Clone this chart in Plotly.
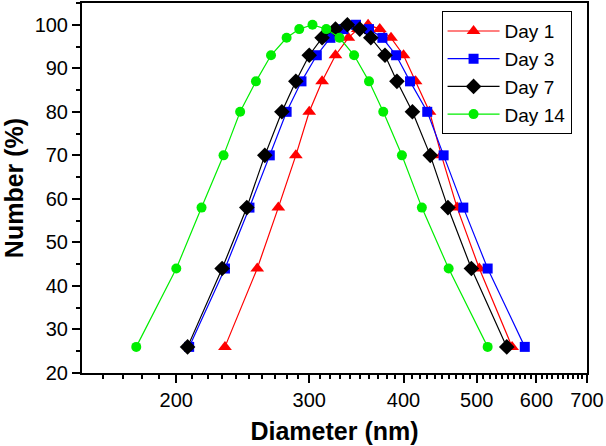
import plotly.graph_objects as go

# Data
levels = [26, 44, 58, 70, 80, 87, 93, 97, 99, 100, 99, 97, 93, 87, 80, 70, 58, 44, 26]
day1_x = [232, 256, 273, 288, 300, 312, 325, 338, 348, 359, 372, 385, 400, 415, 433, 449, 471, 504, 557]
day3_x = [208, 232, 250, 266, 280, 293, 307, 320, 333, 346, 360, 375, 391, 408, 430, 452, 480, 517, 579]
day7_x = [207, 230, 248, 262, 276, 288, 300, 312, 325, 337, 350, 362, 378, 392, 411, 434, 458, 492, 548]
day14_x = [177, 200, 216, 231, 243, 255, 267, 280, 291, 303, 316, 329, 344, 360, 376, 398, 423, 459, 517]

series_names = ["Day 1", "Day 3", "Day 7", "Day 14"]
x_tick_vals = [200, 300, 400, 500, 600, 700]
x_tick_text = ["200", "300", "400", "500", "600", "700"]
y_tick_vals = [20, 30, 40, 50, 60, 70, 80, 90, 100]

FONT = "Liberation Sans, Arial, sans-serif"

styles = [
    dict(color="#ff0000", symbol="triangle-up", size=12),
    dict(color="#0000ff", symbol="square", size=10),
    dict(color="#000000", symbol="diamond", size=12),
    dict(color="#00ee00", symbol="circle", size=10),
]
xs = [day1_x, day3_x, day7_x, day14_x]

fig = go.Figure()
for name, x, st in zip(series_names, xs, styles):
    fig.add_trace(go.Scatter(
        x=x, y=levels, name=name, mode="lines+markers",
        line=dict(color=st["color"], width=1.2),
        marker=dict(color=st["color"], symbol=st["symbol"], size=st["size"],
                    line=dict(width=0)),
    ))

minor_x = [v for v in range(160, 700, 10) if v not in x_tick_vals]

fig.update_layout(
    width=606, height=446,
    margin=dict(l=82, r=19, t=1, b=73),
    paper_bgcolor="white", plot_bgcolor="white",
    font=dict(family=FONT, size=20, color="black"),
    showlegend=True,
    legend=dict(
        x=0.712, y=0.978, xanchor="left", yanchor="top",
        bgcolor="white", bordercolor="black", borderwidth=1,
        font=dict(family=FONT, size=19, color="black"),
        tracegroupgap=0, itemwidth=52,
    ),
    xaxis=dict(
        type="log", range=[2.1761, 2.8451],
        tickmode="array", tickvals=x_tick_vals, ticktext=x_tick_text,
        ticks="outside", ticklen=8, tickwidth=2, tickcolor="black",
        showline=True, linecolor="black", linewidth=2, mirror=True,
        showgrid=False, zeroline=False,
        tickfont=dict(family=FONT, size=20, color="black"),
        minor=dict(tickmode="array", tickvals=minor_x, ticks="outside",
                   ticklen=4, tickwidth=1.5, tickcolor="black", showgrid=False),
        title=dict(text="<b>Diameter (nm)</b>", standoff=12,
                   font=dict(family=FONT, size=25, color="black")),
    ),
    yaxis=dict(
        range=[20, 105],
        tickmode="array", tickvals=y_tick_vals,
        ticks="outside", ticklen=8, tickwidth=2, tickcolor="black",
        showline=True, linecolor="black", linewidth=2, mirror=True,
        showgrid=False, zeroline=False,
        tickfont=dict(family=FONT, size=20, color="black"),
        minor=dict(dtick=5, tick0=25, ticks="outside", ticklen=4,
                   tickwidth=1.5, tickcolor="black", showgrid=False),
        title=dict(text="<b>Number (%)</b>", standoff=6,
                   font=dict(family=FONT, size=25, color="black")),
    ),
)

fig.write_html("out.html", config={"displayModeBar": False},
               post_script="document.body.style.margin='0';document.body.style.overflow='hidden';")
